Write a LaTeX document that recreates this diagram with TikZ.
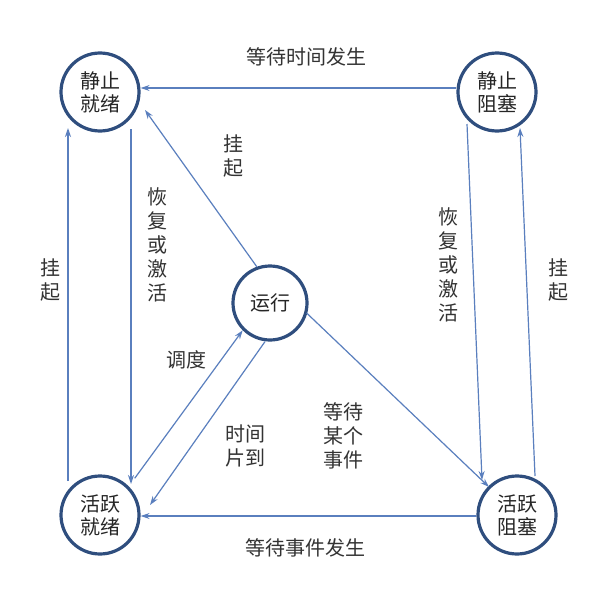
\documentclass[tikz,border=0pt]{standalone}
\usepackage{fontspec}
\setmainfont{Noto Sans CJK SC}
\usetikzlibrary{arrows.meta}
\begin{document}
\begin{tikzpicture}[x=1pt,y=-1pt,
  st/.style={circle,draw=cdark,line width=3.2pt,fill=white,minimum size=78pt,inner sep=0pt,align=center,font=\fontsize{20}{23}\selectfont,text=black!85},
  ar/.style={draw=cline,line width=1.2pt,-{Stealth[length=9pt,width=6pt]}},
  lb/.style={font=\fontsize{20}{24}\selectfont,text=black!80,align=center,inner sep=0pt}]
\definecolor{cdark}{HTML}{2F4E7E}
\definecolor{cline}{HTML}{5A7FBE}
\useasboundingbox[fill=white] (0,0) rectangle (610,597);
\node[st] (sr) at (100,92) {静止\\就绪};
\node[st] (sb) at (497,92) {静止\\阻塞};
\node[st] (ar) at (100,515) {活跃\\就绪};
\node[st] (ab) at (517,515) {活跃\\阻塞};
\node[st,minimum size=74pt] (run) at (270,303) {运行};
% horizontal
\draw[ar] (sb.west|-0,88) -- (sr.east|-0,88);
\draw[ar] (ab.west|-0,516) -- (ar.east|-0,516);
% left verticals
\draw[ar] (131,129) coordinate (a1) -- (131,484);
\draw[ar] (68,481) -- (68,128);
% right verticals
\draw[ar] (467,124) -- (482,480);
\draw[ar] (535,476) -- (520,128);
% run
\draw[ar] (run.110) -- (145,110);
\draw[ar] (ar.north east) ++(6,-8) -- (run.south west);
\draw[ar] (run.south) ++(-5,0) -- (150,505);
\draw[ar] (run.east) ++(-2,10) -- (489,487);
% labels
\node[lb] (l1) at (306,57) {等待时间发生};
\node[lb] (l2) at (305,548) {等待事件发生};
\node[lb] (l3) at (157,245) {恢\\复\\或\\激\\活};
\node[lb] (l4) at (448,265) {恢\\复\\或\\激\\活};
\node[lb] (l5) at (50,280) {挂\\起};
\node[lb] (l6) at (558,280) {挂\\起};
\node[lb] (l7) at (233,156) {挂\\起};
\node[lb] (l8) at (186,360) {调度};
\node[lb] (l9) at (245,446) {时间\\片到};
\node[lb] (l10) at (343,436) {等待\\某个\\事件};
\end{tikzpicture}
\end{document}
